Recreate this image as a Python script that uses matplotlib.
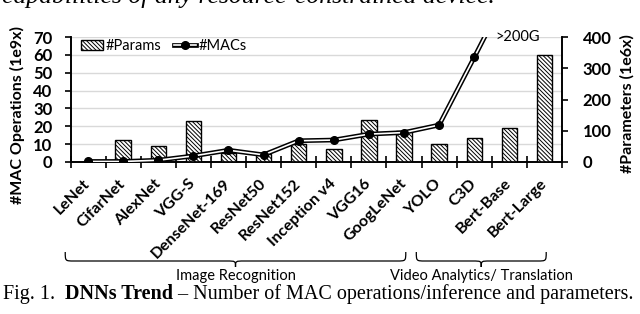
import matplotlib
matplotlib.use("Agg")
import matplotlib.pyplot as plt
import matplotlib.patheffects as pe
from matplotlib.path import Path
from matplotlib.patches import PathPatch
from matplotlib.transforms import blended_transform_factory
import numpy as np

models = ["LeNet", "CifarNet", "AlexNet", "VGG-S", "DenseNet-169", "ResNet50", "ResNet152",
          "Inception v4", "VGG16", "GoogLeNet", "YOLO", "C3D", "Bert-Base", "Bert-Large"]
macs = [0.3, 0.3, 1.0, 3.4, 6.6, 4.0, 11.9, 12.3, 15.6, 16.5, 20.7, 58.6, 97, np.nan]  # 1e9
params = [0.5, 70, 51, 132, 28, 25, 58, 41, 135, 100, 59, 78, 109, 342]  # 1e6
groups = ["Image Recognition", "Video Analytics/ Translation"]
group_span = [(0, 9), (10, 13)]

plt.rcParams['font.family'] = ['Lato', 'DejaVu Sans']
plt.rcParams['hatch.linewidth'] = 0.7


def brace(ax, fig, x0, x1, ytop, ymid, ybot, r=0.25):
    # curly brace, x in data units, y in figure fraction
    xc = (x0 + x1) / 2
    verts = [(x0, ytop), (x0, ymid), (x0, ymid), (x0 + r, ymid),
             (xc - r, ymid), (xc, ymid), (xc, ymid), (xc, ybot),
             (xc, ymid), (xc, ymid), (xc + r, ymid),
             (x1 - r, ymid), (x1, ymid), (x1, ymid), (x1, ytop)]
    codes = [Path.MOVETO, Path.CURVE4, Path.CURVE4, Path.CURVE4,
             Path.LINETO, Path.CURVE4, Path.CURVE4, Path.CURVE4,
             Path.CURVE4, Path.CURVE4, Path.CURVE4,
             Path.LINETO, Path.CURVE4, Path.CURVE4, Path.CURVE4]
    tr = blended_transform_factory(ax.transData, fig.transFigure)
    p = PathPatch(Path(verts, codes), fc='none', ec='black', lw=0.9, transform=tr, clip_on=False)
    fig.add_artist(p)


fig = plt.figure(figsize=(6.4, 3.14), dpi=100)
W, H = 640, 314
rect = [70.5 / W, 1 - 162 / H, (562 - 70.5) / W, (162 - 37) / H]
ax = fig.add_axes(rect)
ax2 = ax.twinx()
ax3 = fig.add_axes(rect, sharex=ax, sharey=ax)
ax.set_zorder(0)
ax2.set_zorder(1)
ax3.set_zorder(2)
ax3.patch.set_visible(False)
ax3.set_axis_off()

x = np.arange(len(models))

# bars: parameters on the right axis
bars = ax2.bar(x, params, width=0.44, color='white', edgecolor='black',
               hatch='\\' * 8, linewidth=1.0, label='#Params')

# line: MACs on the left axis, double line look
line, = ax3.plot(x, macs, color='white', lw=1.2,
                 path_effects=[pe.Stroke(linewidth=3.4, foreground='black'), pe.Normal()])
dots, = ax3.plot(x, macs, ls='none', marker='o', ms=5.5, mfc='black', mec='black')

ax.set_xlim(-0.5, len(models) - 0.5)
ax.set_ylim(0, 70)
ax2.set_ylim(0, 400)
ax.set_yticks(np.arange(0, 80, 10))
ax2.set_yticks(np.arange(0, 500, 100))
ax.grid(axis='y', color='#d9d9d9', lw=1.0)
ax.set_axisbelow(True)

for a in (ax, ax2):
    a.spines['top'].set_visible(False)
    for s in ('left', 'right', 'bottom'):
        a.spines[s].set_linewidth(1.2)

ax.set_xticks(x)
ax.set_xticklabels(models, rotation=45, ha='right', va='center', rotation_mode='anchor',
                   fontsize=11.5, fontweight='bold')
ax.set_xticks(np.arange(-0.5, len(models), 1), minor=True)
ax.tick_params(axis='x', which='major', length=0, pad=14)
ax.tick_params(axis='x', which='minor', length=8, width=1.2, direction='inout')
ax.tick_params(axis='y', length=4, width=1.2, pad=9, labelsize=12)
ax2.tick_params(axis='y', length=4, width=1.2, pad=11, labelsize=12)
for t in ax.get_yticklabels() + ax2.get_yticklabels():
    t.set_fontweight('bold')

ax.set_ylabel('#MAC Operations (1e9x)', fontsize=11.5, fontweight='bold')
ax.yaxis.set_label_coords((25 - 70.5) / 491.5, 0.376)
ax2.set_ylabel('#Parameters (1e6x)', fontsize=11.5, fontweight='bold')
ax2.yaxis.set_label_coords((620 - 70.5) / 491.5, 0.47)

ax3.text(0.865, 1.0, '>200G', transform=ax3.transAxes, fontsize=10.5, va='center', ha='left')

ax3.legend([bars, (line, dots)], ['#Params', '#MACs'], ncol=2, frameon=False,
           loc='center left', bbox_to_anchor=(0.01, 0.93), fontsize=10.5,
           handlelength=1.5, handletextpad=0.15, columnspacing=0.9, borderaxespad=0)

# group braces and labels
for name, (g0, g1) in zip(groups, group_span):
    x0, x1 = g0 - 0.65, g1 + 0.05
    brace(ax, fig, x0, x1, 1 - 252 / H, 1 - 261 / H, 1 - 267 / H)
    fig.text((x0 + x1) / 2, 1 - 276 / H, name, fontsize=10.5, ha='center', va='center',
             transform=blended_transform_factory(ax.transData, fig.transFigure))

# surrounding paper text (top line is cut by the crop)
serif = 'Liberation Serif'
fig.text(2 / W, 1 - 3.5 / H, 'capabilities of any resource-constrained device.', family=serif,
         style='italic', fontsize=18.5, va='baseline', ha='left')
fig.canvas.draw()
rend = fig.canvas.get_renderer()
xpos = 3 / W
for piece, wt in [('Fig. 1.  ', 'normal'), ('DNNs Trend', 'bold'),
                  (' \u2013 Number of MAC operations/inference and parameters.', 'normal')]:
    t = fig.text(xpos, 1 - 299 / H, piece, family=serif, fontweight=wt, fontsize=14.5,
                 va='baseline', ha='left')
    bb = t.get_window_extent(renderer=rend)
    xpos += bb.width / fig.bbox.width

fig.savefig('out.png', dpi=100)
